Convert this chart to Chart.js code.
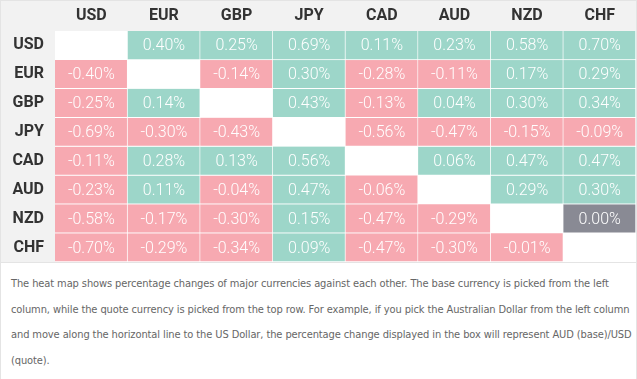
<!DOCTYPE html>
<html>
<head>
<meta charset="utf-8">
<script src="https://cdn.jsdelivr.net/npm/chart.js@4"></script>
<style>
  html, body { margin: 0; padding: 0; background: #fff; }
  #wrap { width: 635px; border: 1px solid #e4e4e4; border-bottom: none; }
  #heat { display: block; background: #f2f2f2; }
  #note {
    margin: 0; padding: 8px 9px 0 10px; height: 109px;
    font-family: "Liberation Sans Narrow", "DejaVu Sans Condensed", sans-serif;
    font-size: 11px; letter-spacing: -0.1px; line-height: 25.6px; color: #666; white-space: nowrap;
    border-top: 1px solid #e4e4e4;
  }
</style>
</head>
<body>
<div id="wrap">
  <canvas id="heat" width="635" height="261"></canvas>
  <p id="note">The heat map shows percentage changes of major currencies against each other. The base currency is picked from the left<br>column, while the quote currency is picked from the top row. For example, if you pick the Australian Dollar from the left column<br>and move along the horizontal line to the US Dollar, the percentage change displayed in the box will represent AUD (base)/USD<br>(quote).</p>
</div>
<script>
/* Heat map des devises — grille 8×8 dessinée en barres flottantes */

const CURRENCIES = ['USD', 'EUR', 'GBP', 'JPY', 'CAD', 'AUD', 'NZD', 'CHF'];

// une ligne par devise de base, colonnes = devise de cotation (null = diagonale)
const rowUSD = [null, 0.40, 0.25, 0.69, 0.11, 0.23, 0.58, 0.70];
const rowEUR = [-0.40, null, -0.14, 0.30, -0.28, -0.11, 0.17, 0.29];
const rowGBP = [-0.25, 0.14, null, 0.43, -0.13, 0.04, 0.30, 0.34];
const rowJPY = [-0.69, -0.30, -0.43, null, -0.56, -0.47, -0.15, -0.09];
const rowCAD = [-0.11, 0.28, 0.13, 0.56, null, 0.06, 0.47, 0.47];
const rowAUD = [-0.23, 0.11, -0.04, 0.47, -0.06, null, 0.29, 0.30];
const rowNZD = [-0.58, -0.17, -0.30, 0.15, -0.47, -0.29, null, 0.00];
const rowCHF = [-0.70, -0.29, -0.34, 0.09, -0.47, -0.30, -0.01, null];

const ROWS = [rowUSD, rowEUR, rowGBP, rowJPY, rowCAD, rowAUD, rowNZD, rowCHF];

const UP = '#9dd6c9';
const DOWN = '#f7a9b1';
const FLAT = '#898a94';
const LABEL_FONT = { family: 'Roboto', size: 16, weight: 'bold' };

const colorFor = v => v > 0 ? UP : (v < 0 ? DOWN : FLAT);

// fond blanc pour la zone de la grille
const areaBg = {
  id: 'areaBg',
  beforeDraw(chart) {
    const { ctx, chartArea: a } = chart;
    ctx.save();
    ctx.fillStyle = '#fff';
    ctx.fillRect(a.left, a.top, a.right - a.left, a.bottom - a.top);
    ctx.restore();
  }
};

// valeurs en % au centre de chaque case
const cellText = {
  id: 'cellText',
  afterDatasetsDraw(chart) {
    const ctx = chart.ctx;
    ctx.save();
    ctx.font = '300 16px Roboto';
    ctx.fillStyle = '#fff';
    ctx.textAlign = 'center';
    ctx.textBaseline = 'middle';
    chart.data.datasets.forEach((ds, r) => {
      chart.getDatasetMeta(r).data.forEach((bar, c) => {
        const v = ROWS[r][c];
        if (v === null) return;
        const { x, y, base } = bar.getProps(['x', 'y', 'base'], true);
        ctx.fillText(v.toFixed(2) + '%', x, (y + base) / 2 + 1);
      });
    });
    ctx.restore();
  }
};

const noPad = s => {
  s.paddingTop = 0; s.paddingBottom = 0; s.paddingLeft = 0; s.paddingRight = 0;
};

new Chart(document.getElementById('heat'), {
  type: 'bar',
  data: {
    labels: CURRENCIES,
    datasets: ROWS.map((row, r) => ({
      label: CURRENCIES[r],
      data: row.map(v => v === null ? null : [r, r + 1]),
      backgroundColor: row.map(v => v === null ? 'rgba(0,0,0,0)' : colorFor(v)),
      borderColor: '#fff',
      borderWidth: { top: 0, left: 0, right: 1, bottom: 1 },
      borderSkipped: false,
      categoryPercentage: 1,
      barPercentage: 1,
      grouped: false
    }))
  },
  plugins: [areaBg, cellText],
  options: {
    responsive: false,
    animation: false,
    devicePixelRatio: 1,
    layout: { padding: 0 },
    plugins: { legend: { display: false }, tooltip: { enabled: false } },
    scales: {
      x: {
        type: 'category',
        position: 'top',
        grid: { display: false, drawTicks: false },
        border: { display: false },
        ticks: { color: '#333', padding: 5, font: LABEL_FONT },
        afterFit: s => { noPad(s); s.height = 30; }
      },
      y: {
        type: 'linear',
        min: 0,
        max: 8,
        reverse: true,
        grid: { display: false, drawTicks: false },
        border: { display: false },
        afterBuildTicks: s => { s.ticks = CURRENCIES.map((c, i) => ({ value: i + 0.5 })); },
        ticks: {
          autoSkip: false,
          color: '#333',
          padding: 11,
          font: LABEL_FONT,
          callback: v => CURRENCIES[Math.floor(v)]
        },
        afterFit: s => { noPad(s); s.width = 54; }
      }
    }
  }
});
</script>
</body>
</html>
